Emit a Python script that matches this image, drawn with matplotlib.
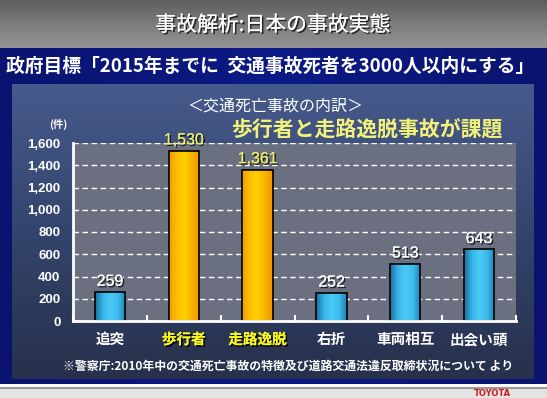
import numpy as np
import matplotlib
matplotlib.use("Agg")
import matplotlib.pyplot as plt
import matplotlib.patheffects as pe
from matplotlib.colors import LinearSegmentedColormap

plt.rcParams['font.family'] = ['Noto Sans CJK JP', 'DejaVu Sans']

# data
categories = ['追突', '歩行者', '走路逸脱', '右折', '車両相互', '出会い頭']
deaths = [259, 1530, 1361, 252, 513, 643]
highlight = [False, True, True, False, False, False]
yticks = [0, 200, 400, 600, 800, 1000, 1200, 1400, 1600]

W, H = 547, 398
fig = plt.figure(figsize=(W / 100, H / 100), dpi=100)


def frac(x0, y0, x1, y1):
    # pixel box (top-left origin) -> figure fraction rect
    return [x0 / W, 1 - y1 / H, (x1 - x0) / W, (y1 - y0) / H]


# background
bg = fig.add_axes([0, 0, 1, 1])
bg.set_xlim(0, W)
bg.set_ylim(H, 0)
bg.axis('off')

grey = LinearSegmentedColormap.from_list('g', ['#5e5e5e', '#7c7c7c', '#939393'])
bg.imshow(np.linspace(0, 1, 50)[:, None], cmap=grey, extent=(0, W, 48, 0), aspect='auto')
blue = LinearSegmentedColormap.from_list('b', ['#0a1470', '#0c1a86', '#0a1470'])
bg.imshow(np.linspace(0, 1, 100)[None, :], cmap=blue, extent=(0, W, 384, 48), aspect='auto')
panel = LinearSegmentedColormap.from_list('p', ['#465a8c', '#34446c', '#27314c'])
bg.imshow(np.linspace(0, 1, 100)[:, None], cmap=panel, extent=(12, 534, 379, 84), aspect='auto')
bg.axhline(384.5, color='white', lw=1.2)
bg.axhline(387.5, color='#9a9a9a', lw=1.5)
bg.axhspan(389, H, color='#e4e4e4')
bg.text(492, 397.5, 'TOYOTA', color='#d01818', fontsize=6, fontweight='bold',
        ha='center', va='bottom', family='DejaVu Sans')

shadow = [pe.withSimplePatchShadow(offset=(1.2, -1.2), shadow_rgbFace='black', alpha=0.7), pe.Normal()]

bg.text(273, 25, '事故解析:日本の事故実態', color='white', fontsize=15,
        ha='center', va='center', path_effects=shadow)
bg.text(270, 66, '政府目標「2015年までに  交通事故死者を3000人以内にする」',
        color='white', fontsize=13.5, ha='center', va='center', fontweight='bold')
bg.text(275, 106, '＜交通死亡事故の内訳＞', color='white', fontsize=11.5,
        ha='center', va='center')
bg.text(367, 130, '歩行者と走路逸脱事故が課題', color='#f2f27a', fontsize=15,
        ha='center', va='center', fontweight='bold')
bg.text(58, 124, '(件)', color='white', fontsize=7.5, ha='center', va='center',
        fontweight='bold')
bg.text(288, 366, '※警察庁:2010年中の交通死亡事故の特徴及び道路交通法違反取締状況について より',
        color='white', fontsize=8.6, ha='center', va='center', fontweight='bold')

# chart
ax = fig.add_axes(frac(73, 143, 516, 321))
ax.set_facecolor('#6a7080')
x = np.arange(len(categories))
bars = ax.bar(x, deaths, width=0.41, color='none', edgecolor='black', lw=1.2, zorder=3)

cm_blue = LinearSegmentedColormap.from_list('bb', ['#1a6e9e', '#36b4e6', '#4ccaf6', '#3cbcee', '#1f7fb4'])
cm_orng = LinearSegmentedColormap.from_list('oo', ['#f09c00', '#fcc000', '#ffd000', '#f8b400', '#ee9400'])
grad = np.linspace(0, 1, 64)[None, :]
for b, hi in zip(bars, highlight):
    im = ax.imshow(grad, cmap=cm_orng if hi else cm_blue, aspect='auto', zorder=2,
                   extent=(b.get_x(), b.get_x() + b.get_width(), 0, b.get_height()))
    im.set_clip_path(b)

for b, v, hi in zip(bars, deaths, highlight):
    ax.annotate(f'{v:,}', (b.get_x() + b.get_width() / 2, v), xytext=(0, 2.5),
                textcoords='offset points', ha='center', va='bottom',
                color='#eeee66' if hi else 'white', fontsize=11.5,
                family=['Liberation Sans', 'DejaVu Sans'],
                path_effects=shadow)

ax.set_xlim(-0.5, len(categories) - 0.5)
ax.set_ylim(0, 1600)
ax.set_yticks(yticks)
ax.set_yticklabels([f'{t:,}' for t in yticks], color='white', fontsize=9.5,
                   fontweight='bold', family=['Liberation Sans', 'DejaVu Sans'])
ax.tick_params(axis='y', length=0, pad=9)
ax.set_xticks(np.arange(len(categories) + 1) - 0.5)
ax.set_xticklabels([])
ax.tick_params(axis='x', direction='in', color='white', length=4, width=1.5)
ax.grid(axis='y', color='white', ls=(0, (4, 2.5)), lw=1, zorder=1)
for s in ['top', 'right']:
    ax.spines[s].set_visible(False)
for s in ['left', 'bottom']:
    ax.spines[s].set_color('white')
    ax.spines[s].set_linewidth(2)
    ax.spines[s].set_zorder(4)

for xi, lab, hi in zip(x, categories, highlight):
    ax.annotate(lab, (xi, 0), xytext=(0, -13), textcoords='offset points',
                ha='center', va='center', fontsize=10.5, fontweight='bold',
                color='#f8f820' if hi else 'white',
                path_effects=[pe.withSimplePatchShadow(offset=(1.2, -1.2), shadow_rgbFace='black', alpha=0.9), pe.Normal()] if hi else None,
                annotation_clip=False)

fig.savefig('out.png', dpi=100)
